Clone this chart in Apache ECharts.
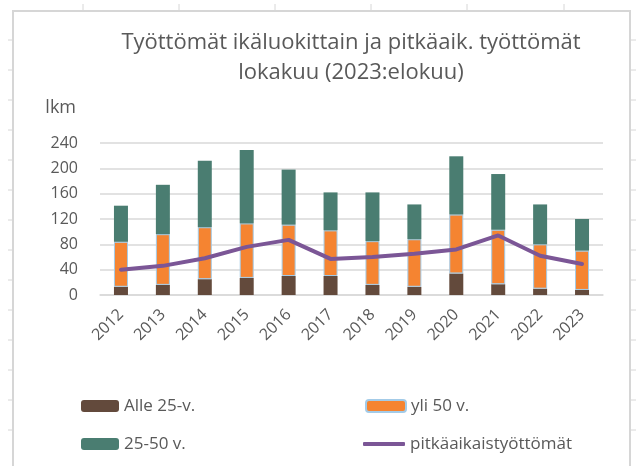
<!DOCTYPE html>
<html>
<head>
    <meta charset="utf-8" />
    <title>Työttömät ikäluokittain</title>
    <script src="https://cdn.jsdelivr.net/npm/echarts@6/dist/echarts.min.js"></script>
    <style>
        html, body { margin: 0; padding: 0; background: #fff; }
    </style>
</head>
<body>
    <div id="main" style="width: 636px;height:466px;"></div>

    <script type="text/javascript">
        // vuodet (lokakuu, 2023 elokuu)
        var years = ['2012', '2013', '2014', '2015', '2016', '2017', '2018', '2019', '2020', '2021', '2022', '2023'];

        // pinotut palkit, tuhatta henkeä
        var alle25 = [13, 16, 25, 27, 30, 30, 16, 13, 34, 17, 10, 8];
        var yli50 = [71, 80, 82, 86, 81, 72, 69, 75, 93, 86, 70, 62];
        var v25_50 = [57, 78, 105, 116, 87, 60, 77, 55, 92, 88, 63, 50];

        // viiva
        var pitkaaik = [40, 46, 58, 76, 87, 57, 60, 65, 72, 94, 62, 49];

        var yTicks = [0, 40, 80, 120, 160, 200, 240];

        var txt = '#595959';
        var font = 'Open Sans';

        // taulukkolaskennan reunaviivat kaavion ympärillä
        var deco = [];
        deco.push({ type: 'rect', shape: { x: 13, y: 11, width: 617, height: 470 }, style: { fill: 'none', stroke: '#d6d6d6', lineWidth: 2 } });
        [83, 179, 275, 371, 467, 564].forEach(function (x) {
            deco.push({ type: 'line', shape: { x1: x, y1: 4, x2: x, y2: 11 }, style: { stroke: '#d6d6d6', lineWidth: 1 } });
        });
        for (var y = 40; y <= 430; y += 30) {
            deco.push({ type: 'line', shape: { x1: 8, y1: y, x2: 13, y2: y }, style: { stroke: '#d6d6d6', lineWidth: 1 } });
            deco.push({ type: 'line', shape: { x1: 630, y1: y, x2: 636, y2: y }, style: { stroke: '#d6d6d6', lineWidth: 1 } });
        }

        var myChart = echarts.init(document.getElementById('main'));

        var legendText = { fontFamily: font, fontSize: 17, color: txt, lineHeight: 20 };

        var option = {
            animation: false,
            textStyle: { fontFamily: font, color: txt },
            title: {
                text: 'Työttömät ikäluokittain ja pitkäaik. työttömät\nlokakuu (2023:elokuu)',
                left: 346,
                top: 23,
                textAlign: 'center',
                textStyle: { fontFamily: font, fontSize: 22, fontWeight: 'normal', color: txt, lineHeight: 30 }
            },
            legend: [
                {
                    orient: 'vertical',
                    left: 76,
                    top: 391,
                    itemWidth: 38,
                    itemHeight: 12,
                    itemGap: 18,
                    data: ['Alle 25-v.', '25-50 v.'],
                    textStyle: legendText
                },
                {
                    left: 360,
                    top: 391,
                    itemWidth: 40,
                    itemHeight: 12,
                    data: ['yli 50 v.'],
                    textStyle: legendText
                },
                {
                    left: 358,
                    top: 429,
                    itemWidth: 42,
                    itemHeight: 4,
                    icon: 'roundRect',
                    data: ['pitkäaikaistyöttömät'],
                    textStyle: legendText
                }
            ],
            grid: { left: 100, right: 33, top: 143, bottom: 171 },
            xAxis: {
                type: 'category',
                data: years,
                axisLine: { lineStyle: { color: '#d9d9d9', width: 1.5 } },
                axisTick: { show: false },
                axisLabel: { rotate: 45, margin: 17, fontSize: 16, color: txt, fontFamily: font }
            },
            yAxis: {
                type: 'value',
                min: yTicks[0],
                max: yTicks[yTicks.length - 1],
                interval: 40,
                name: 'lkm',
                nameLocation: 'end',
                nameGap: 26,
                nameTextStyle: { fontSize: 18, color: txt, fontFamily: font, align: 'right', padding: [0, 24, 0, 0] },
                axisLine: { show: false },
                axisTick: { show: false },
                axisLabel: { fontSize: 16, color: txt, fontFamily: font, margin: 22 },
                splitLine: { lineStyle: { color: '#d9d9d9', width: 1.5 } }
            },
            series: [
                {
                    name: 'Alle 25-v.',
                    type: 'bar',
                    stack: 'ika',
                    barWidth: 14,
                    itemStyle: { color: '#634a3c' },
                    data: alle25
                },
                {
                    name: 'yli 50 v.',
                    type: 'bar',
                    stack: 'ika',
                    itemStyle: { color: '#f58431', borderColor: '#a3cbe8', borderWidth: 1 },
                    data: yli50
                },
                {
                    name: '25-50 v.',
                    type: 'bar',
                    stack: 'ika',
                    itemStyle: { color: '#4a7d71' },
                    data: v25_50
                },
                {
                    name: 'pitkäaikaistyöttömät',
                    type: 'line',
                    symbol: 'none',
                    lineStyle: { color: '#7b5696', width: 4, cap: 'round' },
                    itemStyle: { color: '#7b5696' },
                    data: pitkaaik
                }
            ],
            graphic: deco
        };

        myChart.setOption(option);
    </script>
</body>
</html>
